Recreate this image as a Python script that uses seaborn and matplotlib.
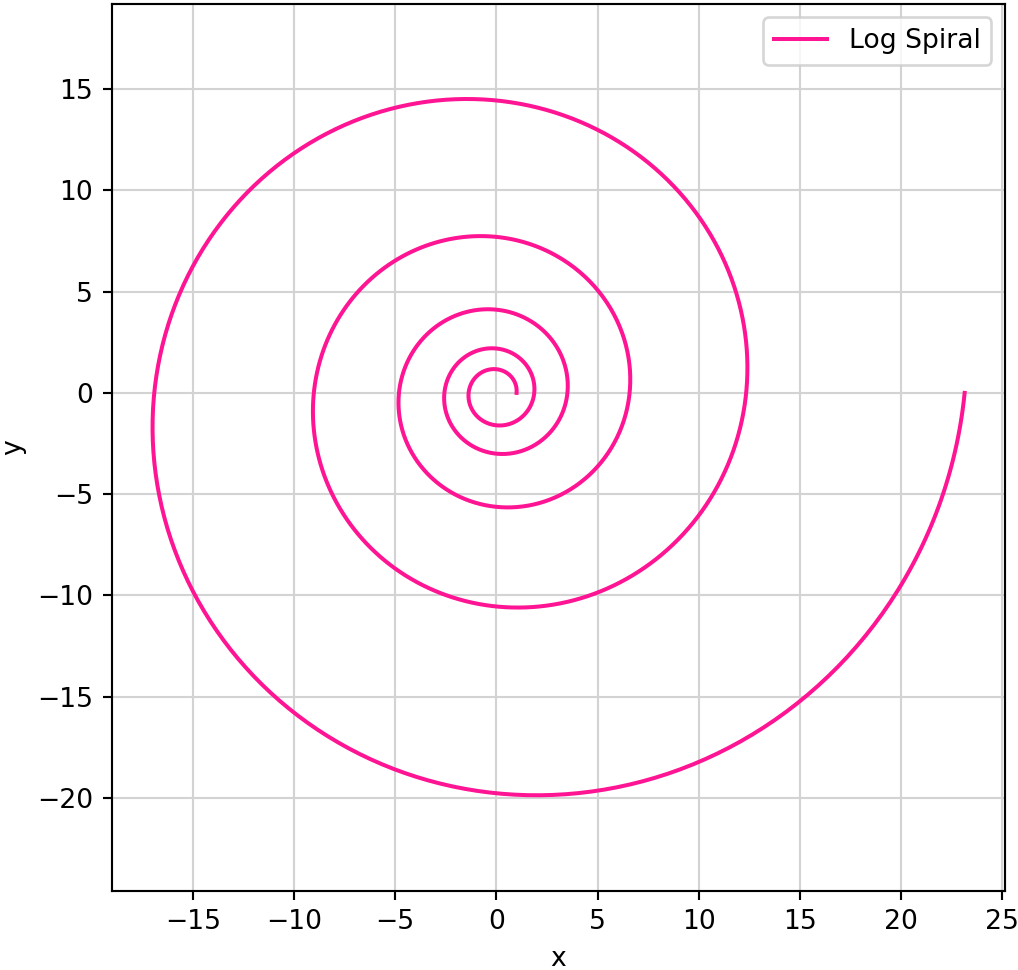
import numpy as np
import pandas as pd
import matplotlib
matplotlib.use("Agg")
import matplotlib.pyplot as plt
import seaborn as sns

# spiral parameters: r = a * exp(b * theta)
a = 1.0
b = 0.1
turns = 5
n_points = 2000

theta = np.linspace(0, 2 * np.pi * turns, n_points)
r = a * np.exp(b * theta)
df = pd.DataFrame({"x": r * np.cos(theta), "y": r * np.sin(theta)})

DPI = 192
W, H = 1018, 970
fig = plt.figure(figsize=(W / DPI, H / DPI), dpi=DPI)
ax = fig.add_axes([112 / W, 1 - 890.7 / H, (1004.7 - 112) / W, (890.7 - 4) / H])

sns.lineplot(data=df, x="x", y="y", sort=False, estimator=None,
             color="deeppink", linewidth=1.5, label="Log Spiral", ax=ax)

ax.grid(True, color="lightgray", linewidth=0.8)
ax.set_axisbelow(True)
ax.set_xlim(-18.99, 25.12)
ax.set_ylim(-24.59, 19.21)
ax.set_xticks(np.arange(-15, 26, 5))
ax.set_yticks(np.arange(-20, 16, 5))
ax.set_xlabel("x")
ax.set_ylabel("y")
ax.legend(loc="upper right")

fig.savefig("out.png", dpi=DPI)
